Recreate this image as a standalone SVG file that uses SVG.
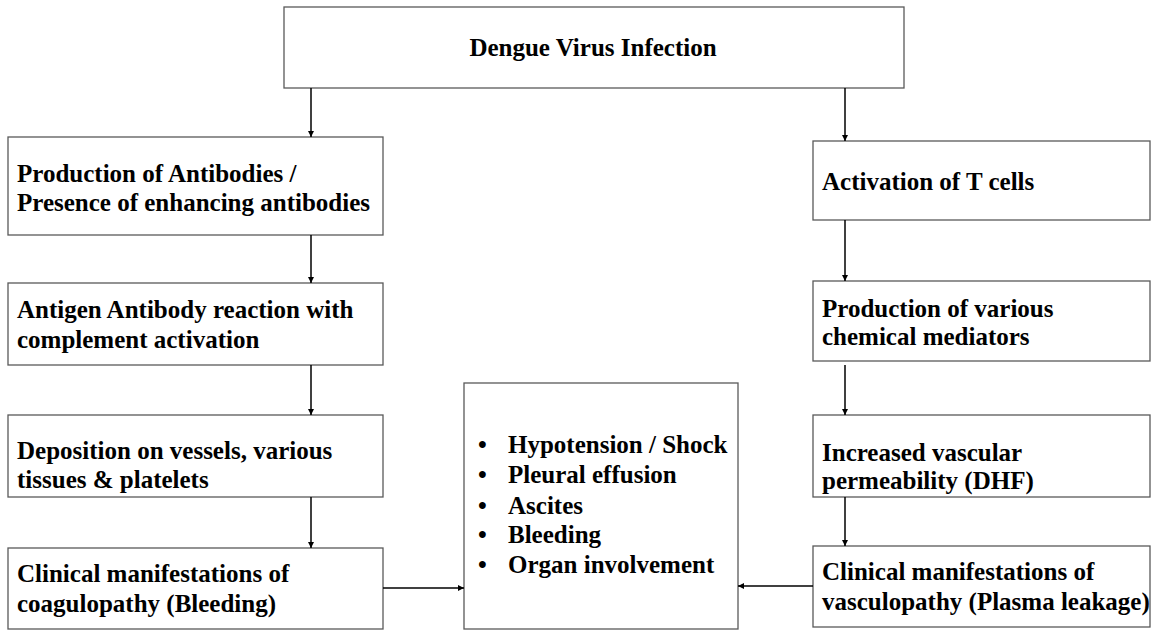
<svg xmlns="http://www.w3.org/2000/svg" width="1151" height="630" viewBox="0 0 1151 630">
<defs>
<marker id="ah" viewBox="0 0 10 10" refX="10" refY="5" markerWidth="6" markerHeight="6" markerUnits="userSpaceOnUse" orient="auto">
<path d="M0,0 L10,5 L0,10 z" fill="#000"/>
</marker>
<style>
.box{fill:#fff;stroke:#595959;stroke-width:1.3}
.t{font-family:"Liberation Serif","Times New Roman",serif;font-weight:bold;font-size:25px;fill:#000}
.c{stroke:#000;stroke-width:1.5;fill:none;marker-end:url(#ah)}
</style>
</defs>
<rect width="1151" height="630" fill="#fff"/>
<g id="top">
<rect class="box" x="284" y="7" width="620" height="81"/>
<text class="t" x="593" y="56" text-anchor="middle">Dengue Virus Infection</text>
</g>
<g id="l1">
<rect class="box" x="8" y="137" width="375" height="98"/>
<text class="t" x="17" y="182">Production of Antibodies /</text>
<text class="t" x="17" y="211">Presence of enhancing antibodies</text>
</g>
<g id="l2">
<rect class="box" x="8" y="283" width="375" height="82"/>
<text class="t" x="17" y="318">Antigen Antibody reaction with</text>
<text class="t" x="17" y="348">complement activation</text>
</g>
<g id="l3">
<rect class="box" x="8" y="415" width="375" height="82"/>
<text class="t" x="17" y="459">Deposition on vessels, various</text>
<text class="t" x="17" y="488">tissues &amp; platelets</text>
</g>
<g id="l4">
<rect class="box" x="8" y="548" width="375" height="81"/>
<text class="t" x="17" y="582">Clinical manifestations of</text>
<text class="t" x="17" y="612">coagulopathy (Bleeding)</text>
</g>
<g id="r1">
<rect class="box" x="813" y="141" width="337" height="79"/>
<text class="t" x="822" y="190">Activation of T cells</text>
</g>
<g id="r2">
<rect class="box" x="813" y="281" width="337" height="80"/>
<text class="t" x="822" y="317">Production of various</text>
<text class="t" x="822" y="345">chemical mediators</text>
</g>
<g id="r3">
<rect class="box" x="813" y="415" width="337" height="82"/>
<text class="t" x="822" y="461">Increased vascular</text>
<text class="t" x="822" y="489">permeability (DHF)</text>
</g>
<g id="r4">
<rect class="box" x="813" y="546" width="337" height="81"/>
<text class="t" x="822" y="580">Clinical manifestations of</text>
<text class="t" x="822" y="610">vasculopathy (Plasma leakage)</text>
</g>
<g id="center">
<rect class="box" x="464" y="383" width="274" height="246"/>
<g class="t">
<text x="478" y="453">•</text><text x="508" y="453">Hypotension / Shock</text>
<text x="478" y="483">•</text><text x="508" y="483">Pleural effusion</text>
<text x="478" y="514">•</text><text x="508" y="514">Ascites</text>
<text x="478" y="543">•</text><text x="508" y="543">Bleeding</text>
<text x="478" y="573">•</text><text x="508" y="573">Organ involvement</text>
</g>
</g>
<g id="connectors">
<line class="c" x1="311" y1="88" x2="311" y2="137"/>
<line class="c" x1="845" y1="88" x2="845" y2="141"/>
<line class="c" x1="311" y1="235" x2="311" y2="283"/>
<line class="c" x1="311" y1="365" x2="311" y2="415"/>
<line class="c" x1="311" y1="497" x2="311" y2="548"/>
<line class="c" x1="845" y1="220" x2="845" y2="281"/>
<line class="c" x1="845" y1="365" x2="845" y2="415"/>
<line class="c" x1="845" y1="497" x2="845" y2="546"/>
<line class="c" x1="383" y1="588" x2="464" y2="588"/>
<line class="c" x1="813" y1="586" x2="738" y2="586"/>
</g>
</svg>
